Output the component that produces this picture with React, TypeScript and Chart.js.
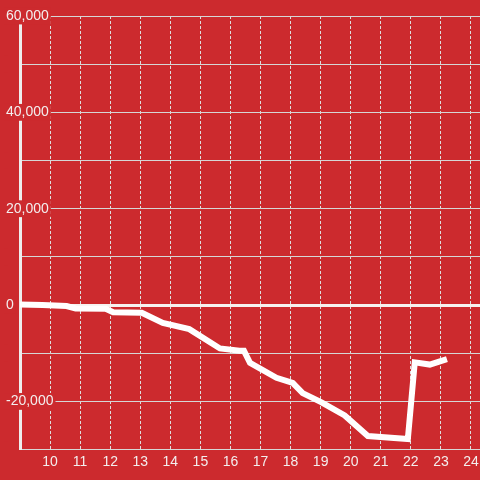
import React, { useEffect, useRef } from "react";
import { Chart, registerables } from "chart.js";

Chart.register(...registerables);

const xValues = [9, 9.75, 10.55, 10.85, 11.85, 12.1, 13.05, 13.75, 14.63, 15.65, 16.3, 16.45, 16.65, 17.53, 18.07, 18.4, 19.03, 19.8, 20.57, 21.9, 22.13, 22.63, 23.2];
const yValues = [100, 0, -200, -700, -750, -1500, -1600, -3700, -5000, -9000, -9500, -9500, -12000, -15100, -16150, -18270, -20200, -22900, -27190, -27800, -11900, -12350, -11200];
const yTickLabelStep = 20000;

const BG = "#cc2a2e";
const FONT = "'Liberation Sans', Arial, Helvetica, sans-serif";

export default function App() {
  const ref = useRef<HTMLCanvasElement>(null);

  useEffect(() => {
    document.body.style.margin = "0";
    document.body.style.background = BG;
    const points = xValues.map((x, i) => ({ x, y: yValues[i] }));
    const chart = new Chart(ref.current!, {
      type: "line",
      data: {
        datasets: [
          {
            data: points,
            borderColor: "#ffffff",
            borderWidth: 6,
            pointRadius: 0,
            tension: 0,
            fill: false,
          },
        ],
      },
      options: {
        animation: false,
        responsive: true,
        maintainAspectRatio: false,
        layout: { padding: { top: 16, left: 5, right: 0, bottom: 6 } },
        plugins: { legend: { display: false }, tooltip: { enabled: false } },
        scales: {
          x: {
            type: "linear",
            min: 9,
            max: 24.3,
            afterBuildTicks: (s: any) => {
              s.ticks = s.ticks.filter((t: any) => t.value >= 10);
            },
            ticks: {
              stepSize: 1,
              includeBounds: false,
              padding: 1,
              color: "#f3eeee",
              font: { family: FONT, size: 14, lineHeight: 1.6 },
              maxRotation: 0,
              autoSkip: false,
            },
            grid: { color: "#dedede", lineWidth: 1, drawTicks: false },
            border: { display: false, dash: [3, 2] },
          },
          y: {
            min: -30000,
            max: 60000,
            afterFit: (s: any) => {
              s.width = 15;
            },
            ticks: {
              stepSize: 10000,
              mirror: true,
              crossAlign: "near",
              padding: -14,
              color: "#f3eeee",
              font: { family: FONT, size: 14 },
              showLabelBackdrop: true,
              backdropColor: BG,
              backdropPadding: { top: 0, bottom: 0, left: 2, right: 2 },
              callback: (v: any) =>
                Number(v) % yTickLabelStep === 0 ? Number(v).toLocaleString("en-US") : "",
            },
            grid: {
              drawTicks: false,
              color: (ctx: any) => (ctx.tick && ctx.tick.value === 0 ? "#f6f2f0" : "#d6d6d6"),
              lineWidth: (ctx: any) => (ctx.tick && ctx.tick.value === 0 ? 3 : 1),
            },
            border: { display: true, color: "#eeeeee", width: 3 },
          },
        },
      },
    });
    return () => chart.destroy();
  }, []);

  return (
    <div style={{ width: 480, height: 480, position: "relative", background: BG }}>
      <canvas ref={ref} />
    </div>
  );
}
